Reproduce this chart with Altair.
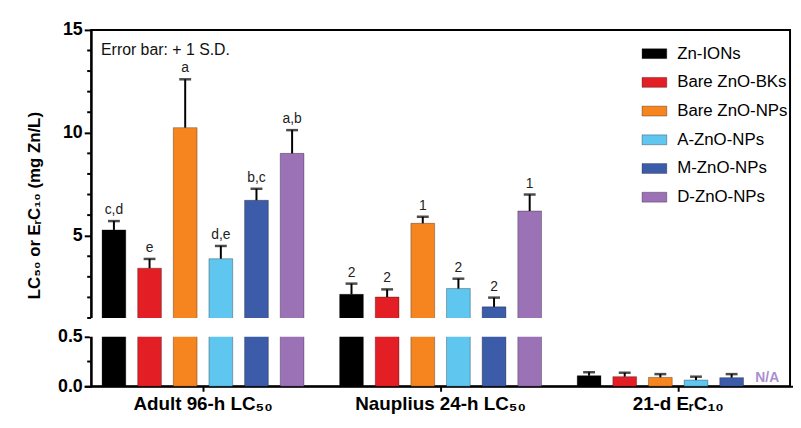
import altair as alt
import pandas as pd

# ---------------- data ----------------
groups = ["Adult 96-h LC₅₀", "Nauplius 24-h LC₅₀", "21-d EᵣC₁₀"]
series = ["Zn-IONs", "Bare ZnO-BKs", "Bare ZnO-NPs", "A-ZnO-NPs", "M-ZnO-NPs", "D-ZnO-NPs"]
colors = ["#000000", "#e31e25", "#f6841f", "#5ec6ef", "#3c5ba8", "#9c72b7"]

adult_mean = [5.28, 3.42, 10.25, 3.88, 6.72, 9.0]
adult_sd = [0.43, 0.45, 2.35, 0.62, 0.56, 1.13]
adult_letters = ["c,d", "e", "a", "d,e", "b,c", "a,b"]

naup_mean = [2.15, 2.02, 5.60, 2.43, 1.54, 6.20]
naup_sd = [0.52, 0.37, 0.32, 0.48, 0.45, 0.80]
naup_letters = ["2", "2", "1", "2", "2", "1"]

erc_mean = [0.107, 0.097, 0.090, 0.063, 0.087, None]
erc_sd = [0.035, 0.040, 0.033, 0.034, 0.036, None]
erc_letters = ["", "", "", "", "", ""]

major_ticks = [0, 0.5, 5, 10, 15]
minor_ticks = [0.25, 1, 2, 3, 4, 6, 7, 8, 9, 11, 12, 13, 14]
na_label = "N/A"
note_text = "Error bar: + 1 S.D."

# ---------------- table ----------------
rows = []
for g, means, sds, lets in [
    (groups[0], adult_mean, adult_sd, adult_letters),
    (groups[1], naup_mean, naup_sd, naup_letters),
    (groups[2], erc_mean, erc_sd, erc_letters),
]:
    for s, m, sd, l in zip(series, means, sds, lets):
        if m is None:
            continue
        rows.append({"group": g, "series": s, "mean": m, "top": m + sd, "letter": l})
df = pd.DataFrame(rows)
na_df = pd.DataFrame([{"group": groups[2], "series": series[5], "mean": 0.08, "t": na_label}])
minor_df = pd.DataFrame({"mean": minor_ticks})
one_df = pd.DataFrame({"a": [0]})

W, H = 706, 360
FONT = "Liberation Sans"
YTITLE = "LC₅₀ or EᵣC₁₀ (mg Zn/L)"

xscale = alt.Scale(domain=groups, range=[-7, W + 7], paddingInner=0, paddingOuter=0)
offscale = alt.Scale(domain=series, paddingInner=1 / 3, paddingOuter=0.5)
yscale = alt.Scale(domain=[0, 0.5, 1, 15], range=[H, H - 50, H - 69, 0], nice=False, zero=False)

x_axis = alt.Axis(labelAngle=0, tickSize=5, labelPadding=3, labelFontSize=19,
                  labelFontWeight="bold", labelFont=FONT, labelColor="black")
x_main = alt.X("group:N", sort=groups, scale=xscale, title=None, axis=x_axis)
xo = alt.XOffset("series:N", sort=series, scale=offscale)

y_axis = alt.Axis(
    values=major_ticks,
    labelExpr="datum.value < 1 ? format(datum.value, '.1f') : format(datum.value, 'd')",
    tickSize=7, labelPadding=2, labelFontSize=18, labelFontWeight="bold", labelFont=FONT,
    labelColor="black", titleFontSize=17,
    titleFontWeight="bold", titleFont=FONT, titleColor="black", titleX=-57, titleY=177,
    titleAngle=270, titleAlign="center", titleBaseline="middle",
)


def Y(field):
    return alt.Y(field, scale=yscale, axis=y_axis, title=YTITLE, stack=None)


bars = alt.Chart(df).mark_bar(stroke="black", strokeOpacity=0.3, strokeWidth=1).encode(
    x=x_main,
    xOffset=xo,
    y=Y("mean:Q"),
    y2=alt.datum(0),
    color=alt.Color("series:N", sort=series, scale=alt.Scale(domain=series, range=colors),
                    legend=alt.Legend(title=None, orient="none", legendX=556, legendY=11,
                                      symbolType="M-1,-0.4H1V0.4H-1Z", symbolSize=625,
                                      symbolStrokeColor="rgba(0,0,0,0.3)", symbolStrokeWidth=1,
                                      symbolOpacity=1,
                                      labelFontSize=17, labelFont=FONT, labelColor="black",
                                      labelOffset=10, rowPadding=8)),
)

gap = alt.Chart(one_df).mark_rect(color="white").encode(
    x=alt.value(-1.5), x2=alt.value(W - 1.5),
    y=alt.Y(datum=0.5, scale=yscale, axis=y_axis, title=YTITLE), y2=alt.datum(1),
)

minor = alt.Chart(minor_df).mark_rule(color="black", strokeWidth=2).encode(
    y=Y("mean:Q"), x=alt.value(-4), x2=alt.value(0),
)

err = alt.Chart(df).mark_rule(color="black", strokeWidth=2).encode(
    x=x_main, xOffset=xo, y=Y("mean:Q"), y2="top:Q",
)

caps = alt.Chart(df).mark_tick(color="black", thickness=2.5, size=12).encode(
    x=x_main, xOffset=xo, y=Y("top:Q"),
)

letters = alt.Chart(df).mark_text(baseline="bottom", dy=-4, fontSize=14, font=FONT,
                                  color="#222222").encode(
    x=x_main, xOffset=xo, y=Y("top:Q"), text="letter:N",
)

na = alt.Chart(na_df).mark_text(baseline="middle", fontSize=14, font=FONT, fontWeight="bold",
                                color="#a98ed0").encode(
    x=x_main, xOffset=xo, y=Y("mean:Q"), text="t:N",
)

note = alt.Chart(one_df).mark_text(align="left", baseline="middle", fontSize=16, font=FONT,
                                   color="#111111").encode(
    x=alt.value(10), y=alt.value(20), text=alt.value(note_text),
)

chart = alt.layer(bars, gap, minor, err, caps, letters, na, note).properties(
    width=W, height=H,
    padding={"left": 84, "top": 20, "right": 3, "bottom": 40},
    autosize=alt.AutoSizeParams(type="none"),
    background="white",
).configure_view(stroke="black", strokeWidth=2).configure_axis(
    domainColor="black", domainWidth=2, tickColor="black", tickWidth=2, grid=False,
)

chart.save("out.html", embed_options={"renderer": "svg", "actions": False})
